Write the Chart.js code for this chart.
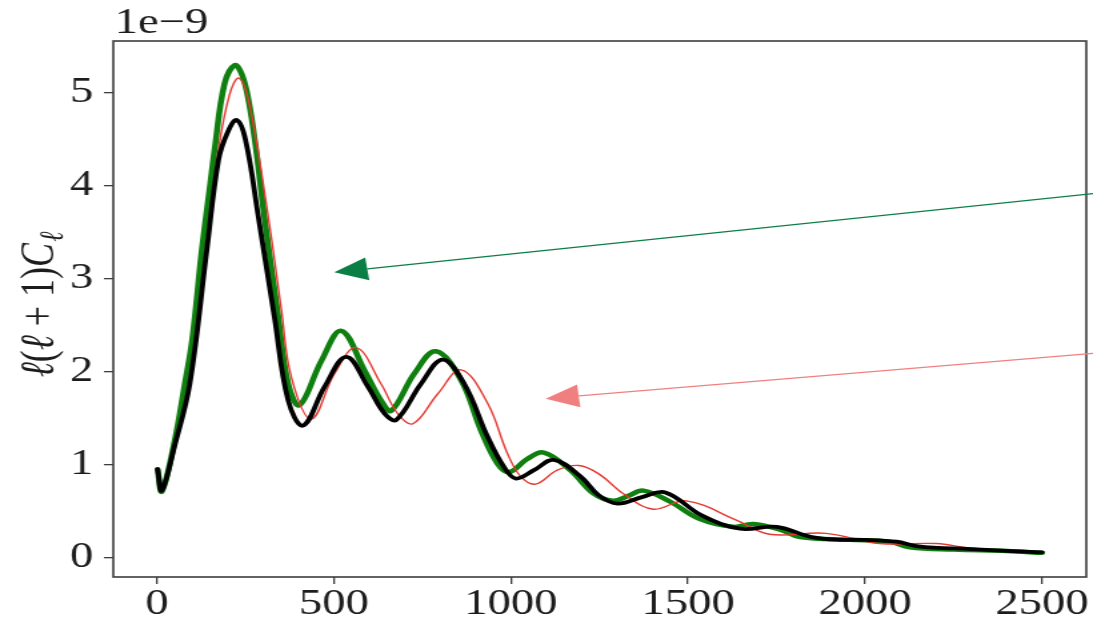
<!DOCTYPE html>
<html>
<head>
<meta charset="utf-8">
<title>Power spectrum</title>
<script src="https://cdn.jsdelivr.net/npm/chart.js@4.4.1/dist/chart.umd.min.js"></script>
<style>
  html, body { margin: 0; padding: 0; background: #fff; overflow: hidden; }
  /* the figure is drawn narrow and widened horizontally */
  #wrap { width: 820px; height: 626px; transform: scaleX(1.3329); transform-origin: 0 0; }
</style>
</head>
<body>
<div id="wrap"><canvas id="cl" width="820" height="626"></canvas></div>
<script>
// multipole ell and l(l+1)C_l in units of 1e-9
const ellBlack = [2, 14, 50, 93, 141, 174, 200, 225, 250, 287, 332, 371, 413, 474, 535, 596, 643, 676, 746, 807, 868, 934, 981, 1014, 1065, 1121, 1197, 1248, 1301, 1370, 1436, 1540, 1647, 1751, 1850, 1937, 2000, 2089, 2150, 2300, 2500];
const clBlack  = [0.95, 0.72, 1.20, 1.87, 3.31, 4.28, 4.58, 4.71, 4.50, 3.66, 2.59, 1.69, 1.42, 1.84, 2.16, 1.84, 1.55, 1.48, 1.87, 2.13, 1.87, 1.30, 0.97, 0.85, 0.94, 1.05, 0.87, 0.67, 0.58, 0.65, 0.70, 0.45, 0.31, 0.33, 0.22, 0.19, 0.19, 0.17, 0.12, 0.09, 0.055];

const ellRed = [2, 14, 50, 90, 130, 174, 205, 231, 260, 315, 352, 380, 436, 502, 563, 633, 680, 723, 793, 859, 934, 990, 1028, 1070, 1131, 1192, 1248, 1320, 1402, 1495, 1638, 1730, 1890, 2041, 2201, 2300, 2500];
const clRed  = [0.95, 0.72, 1.20, 1.87, 3.05, 4.39, 4.98, 5.16, 4.90, 3.66, 2.66, 1.94, 1.49, 1.98, 2.26, 1.87, 1.55, 1.44, 1.76, 2.02, 1.66, 1.12, 0.87, 0.79, 0.94, 0.99, 0.90, 0.68, 0.52, 0.61, 0.40, 0.25, 0.26, 0.15, 0.15, 0.10, 0.06];

const ellGreen = [2, 14, 50, 79, 100, 127, 150, 163, 191, 220, 240, 259, 280, 304, 343, 371, 403, 465, 521, 587, 633, 662, 727, 788, 859, 915, 962, 995, 1046, 1093, 1168, 1233, 1287, 1330, 1374, 1450, 1530, 1627, 1684, 1760, 1816, 1957, 2069, 2126, 2250, 2400, 2500];
const clGreen  = [0.95, 0.71, 1.25, 1.87, 2.35, 3.31, 4.00, 4.39, 5.10, 5.30, 5.20, 4.92, 4.40, 3.66, 2.59, 1.87, 1.64, 2.12, 2.44, 2.01, 1.69, 1.58, 1.98, 2.22, 1.91, 1.37, 1.01, 0.92, 1.06, 1.13, 0.94, 0.69, 0.61, 0.66, 0.72, 0.60, 0.42, 0.33, 0.36, 0.30, 0.22, 0.19, 0.17, 0.11, 0.085, 0.07, 0.05];

const xTicks = [0, 500, 1000, 1500, 2000, 2500];
const yTicks = [0, 1, 2, 3, 4, 5];
const offsetText = "1e\u22129";

// annotation arrows, tail -> head, in data coordinates
const arrowGreen = { from: [2650, 3.92], to: [501, 3.07] };
const arrowPink  = { from: [2650, 2.20], to: [1098, 1.71] };

const FONT = "'Liberation Serif', 'DejaVu Serif', serif";
const TEXT = "#1c1c1c";
const AXIS = "#3d3d3d";

function pts(xs, ys) { return xs.map((x, i) => ({ x, y: ys[i] })); }

function series(label, xs, ys, color, width) {
  return {
    label, data: pts(xs, ys), borderColor: color, backgroundColor: color,
    borderWidth: width, pointRadius: 0, fill: false, tension: 0.38,
    borderCapStyle: "round", borderJoinStyle: "round",
  };
}

function drawArrow(ctx, chart, a, color, lw) {
  const sx = chart.scales.x, sy = chart.scales.y;
  const tx = sx.getPixelForValue(a.from[0]), ty = sy.getPixelForValue(a.from[1]);
  const hx = sx.getPixelForValue(a.to[0]), hy = sy.getPixelForValue(a.to[1]);
  const len = Math.hypot(hx - tx, hy - ty);
  const dx = (hx - tx) / len, dy = (hy - ty) / len;
  const L = 25, W = 11.5;
  const bx = hx - dx * L, by = hy - dy * L;
  ctx.strokeStyle = color; ctx.fillStyle = color; ctx.lineWidth = lw;
  ctx.beginPath(); ctx.moveTo(tx, ty); ctx.lineTo(bx, by); ctx.stroke();
  ctx.beginPath();
  ctx.moveTo(hx, hy);
  ctx.lineTo(bx - dy * W, by + dx * W);
  ctx.lineTo(bx + dy * W, by - dx * W);
  ctx.closePath(); ctx.fill();
}

// y label: l(l+1)C_l with italic ell and subscript
function drawYTitle(ctx, cx, cy) {
  const size = 36;
  const parts = [
    { t: "\u2113", it: true }, { t: "(", it: false }, { t: "\u2113", it: true },
    { t: " + 1)", it: false }, { t: "C", it: true },
  ];
  const sub = { t: "\u2113", size: 25 };
  ctx.save();
  ctx.translate(cx, cy);
  ctx.rotate(-Math.PI / 2);
  ctx.fillStyle = TEXT;
  ctx.textBaseline = "alphabetic";
  let w = 0;
  parts.forEach(p => { ctx.font = (p.it ? "italic " : "") + size + "px " + FONT; p.w = ctx.measureText(p.t).width; w += p.w; });
  ctx.font = "italic " + sub.size + "px " + FONT;
  const subW = ctx.measureText(sub.t).width;
  let x = -(w + subW) / 2;
  const base = 12;
  parts.forEach(p => { ctx.font = (p.it ? "italic " : "") + size + "px " + FONT; ctx.fillText(p.t, x, base); x += p.w; });
  ctx.font = "italic " + sub.size + "px " + FONT;
  ctx.fillText(sub.t, x + 1, base + 7);
  ctx.restore();
}

const decor = {
  id: "decor",
  afterDraw(chart) {
    const ctx = chart.ctx, a = chart.chartArea;
    ctx.save();
    // axes frame
    ctx.strokeStyle = AXIS; ctx.lineWidth = 1.6;
    ctx.strokeRect(a.left, a.top, a.right - a.left, a.bottom - a.top);
    // offset text above the y axis
    ctx.fillStyle = TEXT; ctx.font = "35px " + FONT;
    ctx.textAlign = "left"; ctx.textBaseline = "alphabetic";
    ctx.fillText(offsetText, a.left + 1, 33);
    drawYTitle(ctx, 28, 305);
    drawArrow(ctx, chart, arrowGreen, "#0b7e45", 1.3);
    drawArrow(ctx, chart, arrowPink, "#f08080", 1.3);
    ctx.restore();
  },
};

const tickFont = { family: FONT, size: 35 };

new Chart(document.getElementById("cl"), {
  type: "line",
  data: {
    datasets: [
      series("black", ellBlack, clBlack, "#000000", 3.8),
      series("red", ellRed, clRed, "#e53a32", 1.4),
      series("green", ellGreen, clGreen, "#0f7f0f", 4.5),
    ],
  },
  options: {
    responsive: false, animation: false, devicePixelRatio: 1,
    layout: { padding: { left: 0, right: 5, top: 41, bottom: 0 } },
    plugins: { legend: { display: false }, tooltip: { enabled: false } },
    scales: {
      x: {
        type: "linear", min: -123, max: 2625,
        afterBuildTicks: s => { s.ticks = xTicks.map(v => ({ value: v })); },
        afterFit: s => { s.height = 49; },
        grid: { drawOnChartArea: false, drawTicks: true, tickLength: 7, tickColor: AXIS, lineWidth: 1.3 },
        border: { display: false },
        ticks: { font: tickFont, color: TEXT, padding: 0, maxRotation: 0, callback: v => String(v) },
      },
      y: {
        type: "linear", min: -0.21, max: 5.56,
        afterBuildTicks: s => { s.ticks = yTicks.map(v => ({ value: v })); },
        afterFit: s => { s.width = 85; },
        grid: { drawOnChartArea: false, drawTicks: true, tickLength: 7, tickColor: AXIS, lineWidth: 1.3 },
        border: { display: false },
        ticks: { font: tickFont, color: TEXT, padding: 8, callback: v => String(v) },
      },
    },
  },
  plugins: [decor],
});
</script>
</body>
</html>
